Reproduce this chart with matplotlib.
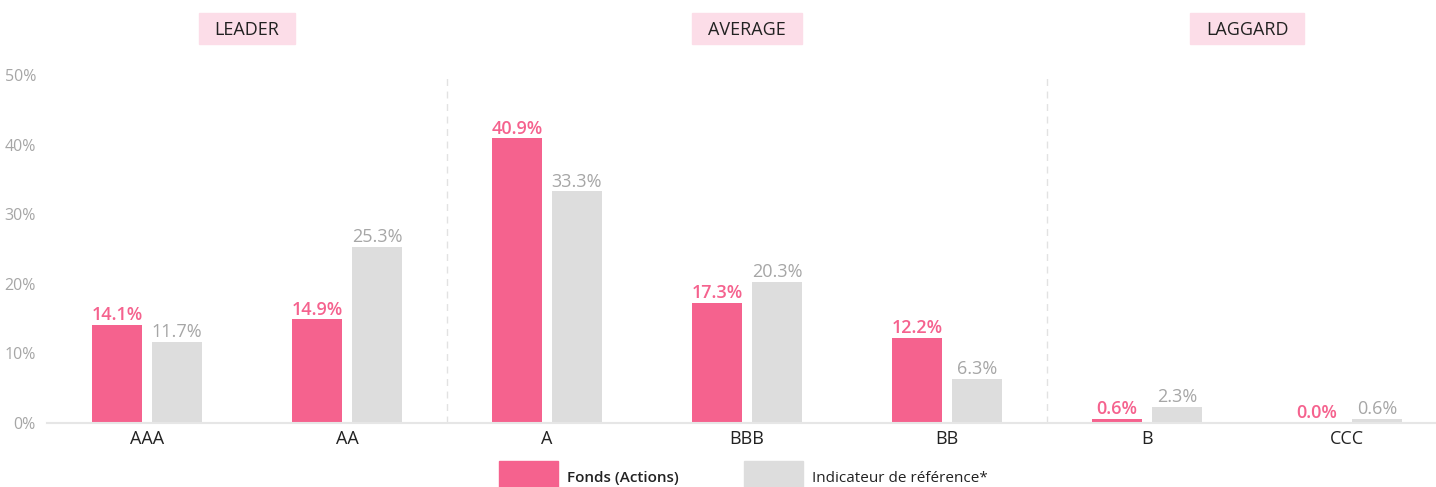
import matplotlib.pyplot as plt
from matplotlib.patches import Rectangle
from matplotlib.transforms import blended_transform_factory
import numpy as np

plt.rcParams['font.family'] = ['Open Sans', 'DejaVu Sans']

ratings = ['AAA', 'AA', 'A', 'BBB', 'BB', 'B', 'CCC']
fonds = [14.1, 14.9, 40.9, 17.3, 12.2, 0.6, 0.0]
indice = [11.7, 25.3, 33.3, 20.3, 6.3, 2.3, 0.6]
groups = ['LEADER', 'AVERAGE', 'LAGGARD']
group_pos = [0.5, 3, 5.5]
separators = [1.5, 4.5]

pink = '#f5628e'
grey = '#dddddd'

W, H = 1436, 487
fig = plt.figure(figsize=(W / 100, H / 100), dpi=100)
ax = fig.add_axes([47 / W, (H - 423) / H, 1389 / W, 348 / H])

x = np.arange(len(ratings))
w = 0.25
ax.bar(x - 0.15, fonds, w, color=pink)
ax.bar(x + 0.15, indice, w, color=grey)

for xi, v in zip(x, fonds):
    ax.text(xi - 0.15, v + 0.1, f'{v:.1f}%', ha='center', va='bottom',
            color=pink, fontsize=13, fontweight='semibold')
for xi, v in zip(x, indice):
    ax.text(xi + 0.15, v + 0.1, f'{v:.1f}%', ha='center', va='bottom',
            color='#a6a6a6', fontsize=13)

for s in separators:
    ax.plot([s, s], [0, 50], color='#e2e2e2', lw=1, ls=(0, (5, 4)))

ax.set_xlim(-0.5, 6.445)
ax.set_ylim(0, 50)
ax.set_yticks(range(0, 51, 10))
ax.set_yticklabels([f'{t}%' for t in range(0, 51, 10)], color='#a6a6a6', fontsize=11.5)
ax.set_xticks(x)
ax.set_xticklabels(ratings, fontsize=13, color='#222222')
ax.tick_params(length=0, pad=5)
ax.tick_params(axis='y', pad=8)
for sp in ['top', 'right', 'left']:
    ax.spines[sp].set_visible(False)
ax.spines['bottom'].set_color('#e6e6e6')
ax.spines['bottom'].set_linewidth(1.5)

# group headers with pink boxes
trans = blended_transform_factory(ax.transData, fig.transFigure)
labels = []
for g, p in zip(groups, group_pos):
    t = fig.text(p, (H - 30) / H, g, ha='center', va='center', fontsize=13,
                 color='#222222', transform=trans, zorder=5)
    labels.append(t)
fig.canvas.draw()
renderer = fig.canvas.get_renderer()
for t in labels:
    bb = t.get_window_extent(renderer)
    fig.patches.append(Rectangle(((bb.x0 - 16) / W, (H - 44) / H), (bb.width + 32) / W, 31 / H,
                                 transform=fig.transFigure, color='#fcdde8', zorder=-1))

# legend
fig.patches.append(Rectangle((499 / W, 0), 59 / W, 26 / H,
                             transform=fig.transFigure, color=pink))
fig.text(567 / W, 9 / H, 'Fonds (Actions)', fontsize=11, fontweight='semibold',
         va='center', color='#222222')
fig.patches.append(Rectangle((744 / W, 0), 59 / W, 26 / H,
                             transform=fig.transFigure, color=grey))
fig.text(812 / W, 9 / H, 'Indicateur de référence*', fontsize=11,
         va='center', color='#222222')

fig.savefig('out.png', dpi=100)
